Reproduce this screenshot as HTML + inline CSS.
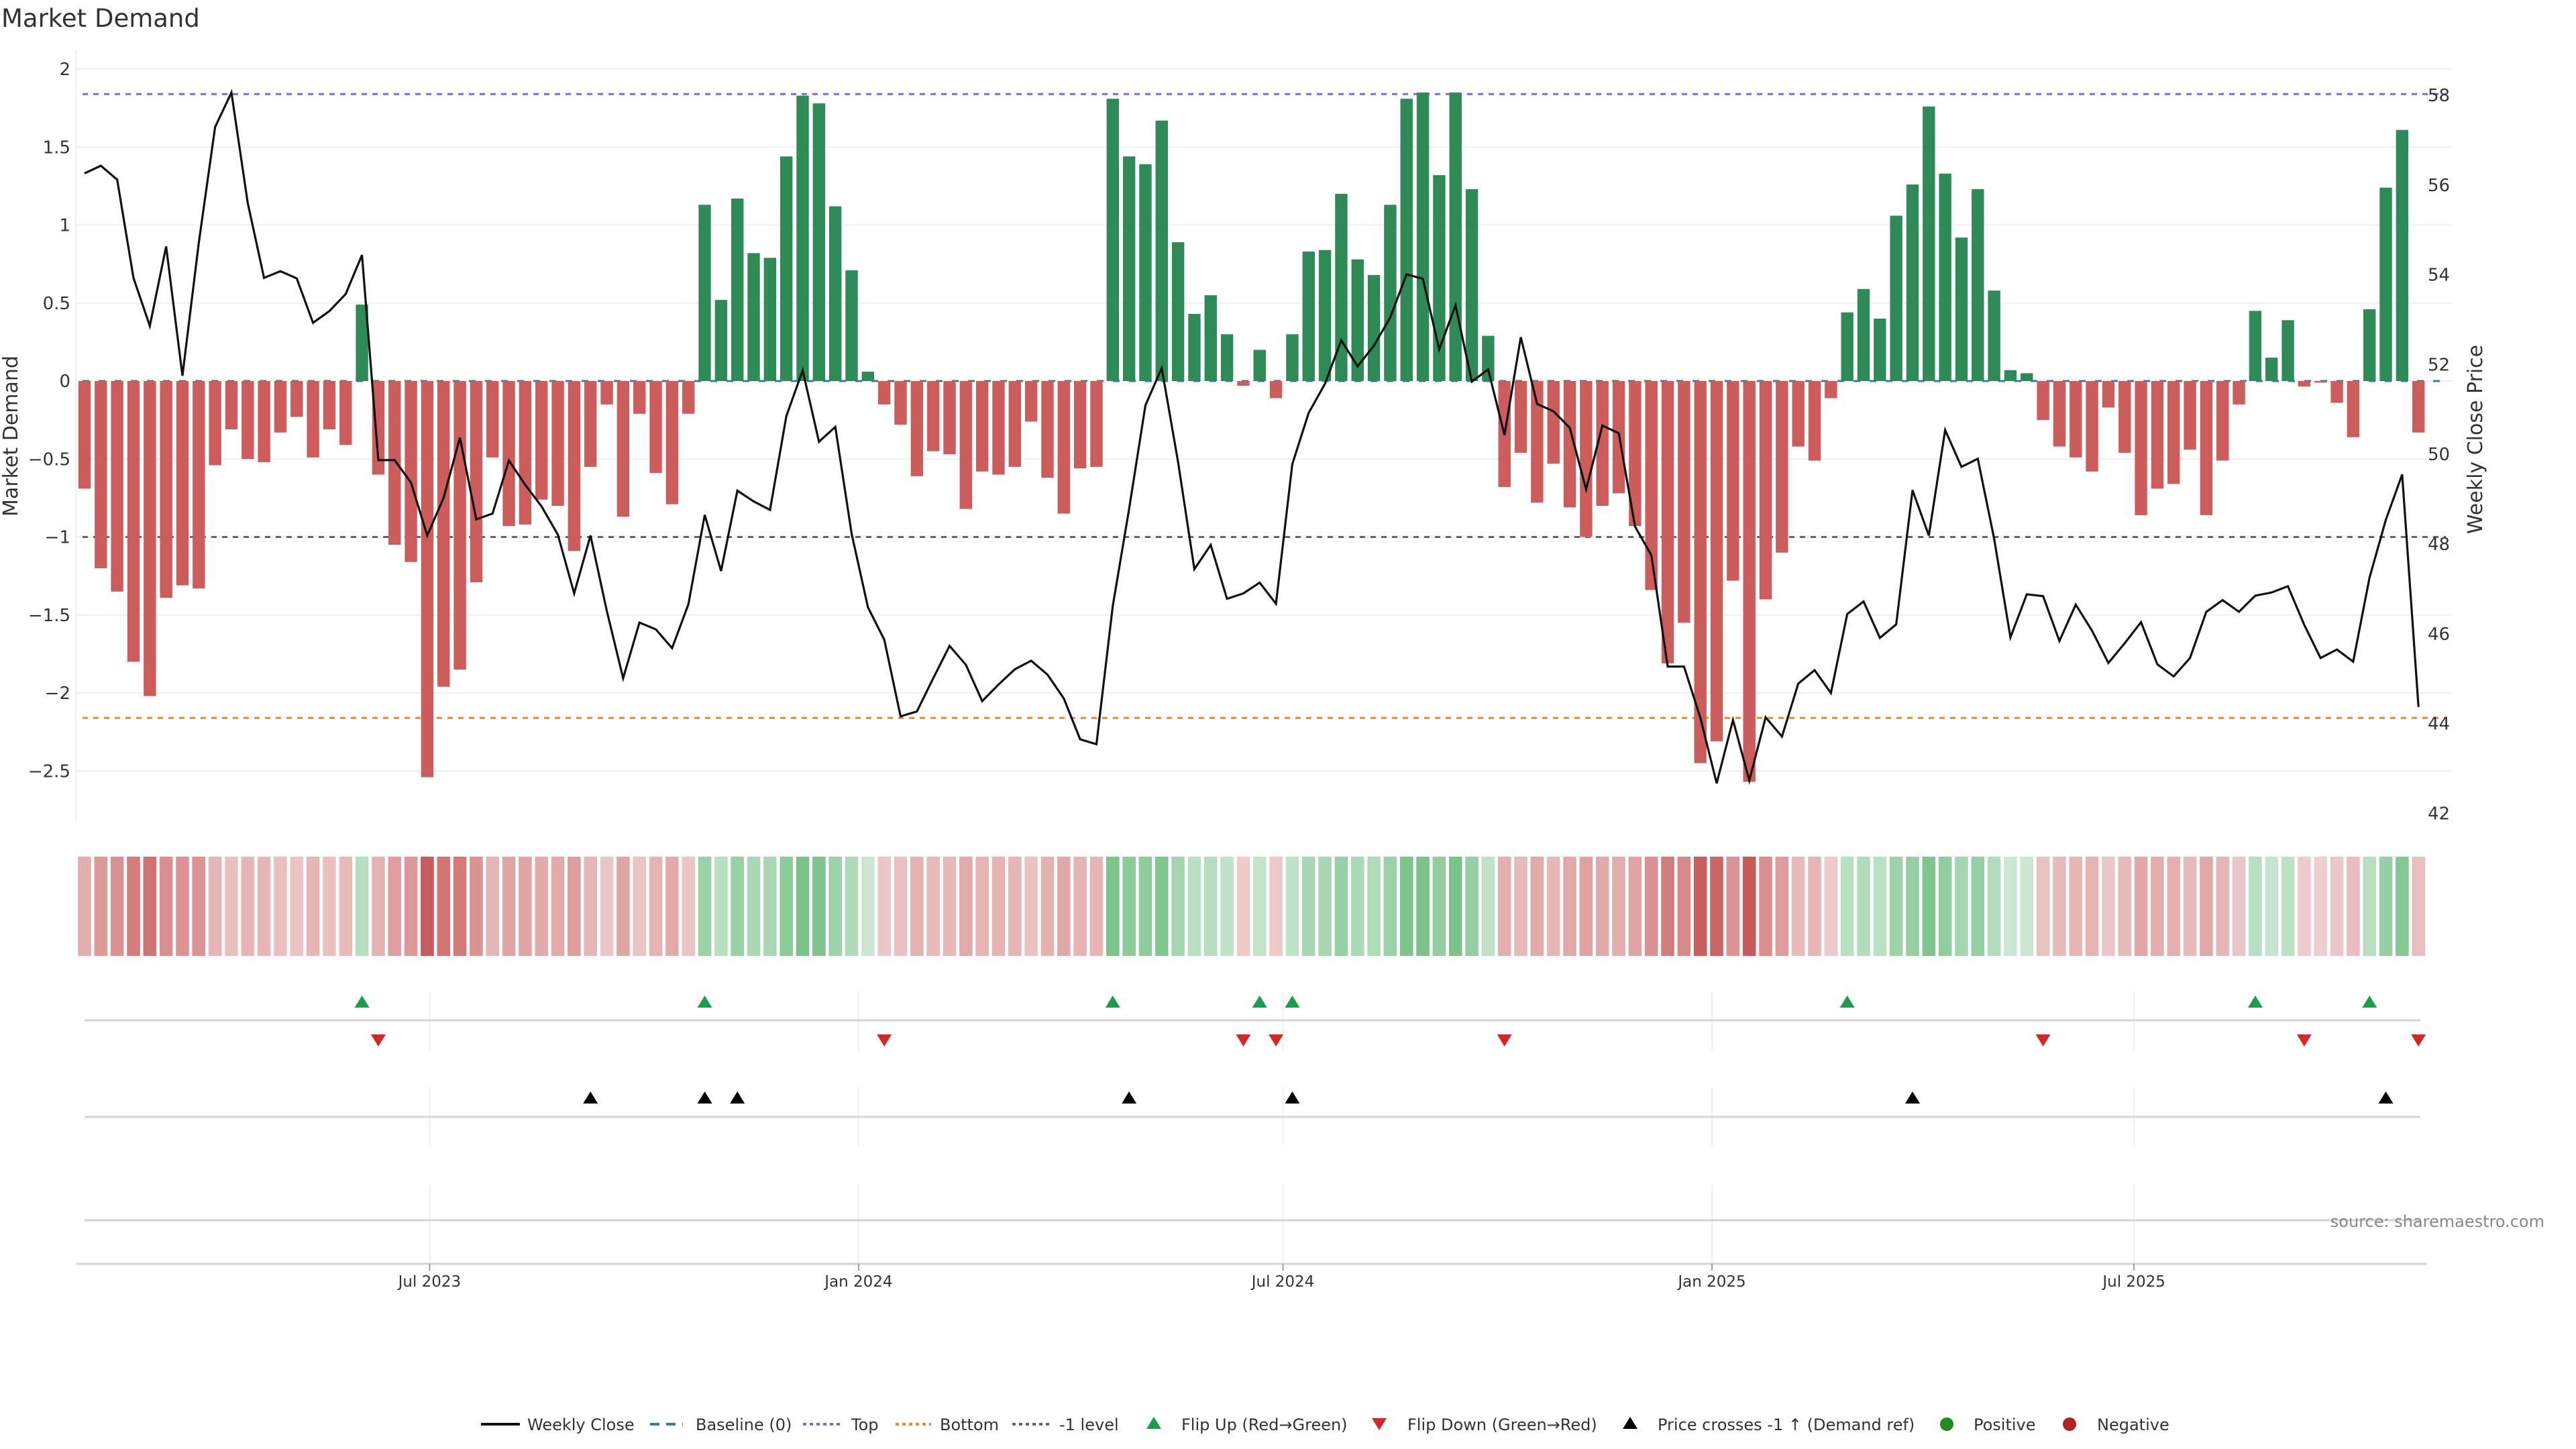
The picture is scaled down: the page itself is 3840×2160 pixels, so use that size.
<!DOCTYPE html>
<html><head><meta charset="utf-8"><style>
html,body{margin:0;padding:0;background:#fff;}
svg{display:block;}
text{font-family:"DejaVu Sans","Liberation Sans",sans-serif;}
</style></head><body>
<svg id="chart" width="3840" height="2160" viewBox="0 0 3840 2160" xmlns="http://www.w3.org/2000/svg">
<text x="2" y="40" font-size="37" fill="#333">Market Demand</text>
<g id="grid"></g><g id="refs"></g><g id="bars"></g><g id="line"></g><g id="axes"></g><g id="lower"></g><g id="legend"></g>
</svg>
<script>
const demand = [-0.69,-1.20,-1.35,-1.80,-2.02,-1.39,-1.31,-1.33,-0.54,-0.31,-0.50,-0.52,-0.33,-0.23,-0.49,-0.31,-0.41,0.49,-0.60,-1.05,
-1.16,-2.54,-1.96,-1.85,-1.29,-0.49,-0.93,-0.92,-0.76,-0.80,-1.09,-0.55,-0.15,-0.87,-0.21,-0.59,-0.79,-0.21,1.13,0.52,
1.17,0.82,0.79,1.44,1.83,1.78,1.12,0.71,0.06,-0.15,-0.28,-0.61,-0.45,-0.47,-0.82,-0.58,-0.60,-0.55,-0.26,-0.62,
-0.85,-0.56,-0.55,1.81,1.44,1.39,1.67,0.89,0.43,0.55,0.30,-0.03,0.20,-0.11,0.30,0.83,0.84,1.20,0.78,0.68,
1.13,1.81,1.85,1.32,1.85,1.23,0.29,-0.68,-0.46,-0.78,-0.53,-0.81,-1.00,-0.80,-0.72,-0.93,-1.34,-1.81,-1.55,-2.45,
-2.31,-1.28,-2.57,-1.40,-1.10,-0.42,-0.51,-0.11,0.44,0.59,0.40,1.06,1.26,1.76,1.33,0.92,1.23,0.58,0.07,0.05,
-0.25,-0.42,-0.49,-0.58,-0.17,-0.46,-0.86,-0.69,-0.66,-0.44,-0.86,-0.51,-0.15,0.45,0.15,0.39,-0.035,-0.01,-0.14,-0.36,
0.46,1.24,1.61,-0.33];
const price = [56.26,56.43,56.12,53.93,52.86,54.63,51.75,54.71,57.29,58.06,55.60,53.93,54.08,53.92,52.93,53.19,53.57,54.44,49.87,49.87,
49.37,48.19,49.03,50.37,48.55,48.68,49.86,49.32,48.84,48.21,46.90,48.19,46.51,45.01,46.25,46.10,45.68,46.66,48.65,47.40,
49.19,48.95,48.76,50.85,51.87,50.28,50.61,48.23,46.59,45.87,44.16,44.27,45.01,45.73,45.31,44.50,44.87,45.21,45.40,45.09,
44.56,43.65,43.54,46.62,48.78,51.09,51.92,49.83,47.44,47.98,46.78,46.90,47.14,46.67,49.78,50.92,51.57,52.54,51.96,52.42,
53.05,54.01,53.91,52.34,53.32,51.62,51.89,50.43,52.61,51.12,50.96,50.59,49.22,50.64,50.47,48.39,47.75,45.27,45.27,44.13,
42.67,44.08,42.73,44.14,43.71,44.89,45.19,44.68,46.44,46.72,45.91,46.21,49.20,48.19,50.54,49.72,49.90,48.12,45.92,46.88,
46.84,45.84,46.65,46.07,45.35,45.79,46.26,45.32,45.05,45.46,46.49,46.75,46.49,46.85,46.92,47.06,46.20,45.46,45.65,45.38,
47.25,48.54,49.55,44.37];
const demandTicks = [2,1.5,1,0.5,0,-0.5,-1,-1.5,-2,-2.5];
const priceTicks = [58,56,54,52,50,48,46,44,42];
const dateTicks = ["2023-07-01","2024-01-01","2024-07-01","2025-01-01","2025-07-01"];
const dateTickLabels = ["Jul 2023","Jan 2024","Jul 2024","Jan 2025","Jul 2025"];
const refTop = 1.84, refBottom = -2.16, refMinus1 = -1;
const priceRef = 48.1;
const firstWeek = "2023-02-03";

const NS="http://www.w3.org/2000/svg";
function mk(tag,attrs,parent){const e=document.createElementNS(NS,tag);for(const k in attrs)e.setAttribute(k,attrs[k]);parent.appendChild(e);return e;}
const X0=126, STEP=24.33, PL=113, PR=3656;
const xi=i=>X0+STEP*i;
const DAY=STEP/7, t0=Date.parse(firstWeek);
const xd=s=>X0+(Date.parse(s)-t0)/86400000*DAY;
const yD=v=>568-v*232.5;
const yP=p=>142+(58-p)*66.9;
const G=id=>document.getElementById(id);

demandTicks.forEach(v=>{
  const l=mk('line',{x1:PL,x2:PR,y1:yD(v),y2:yD(v),stroke:'#eceff3','stroke-width':2},G('grid'));
  
  
});
const la=mk('line',{x1:PL,x2:PL,y1:74,y2:1225,stroke:'#eef0f4','stroke-width':2},G('grid'));



[[0,'#3a78a8','10 14','baseline-zero'],[refTop,'#7b68ee','8 8','top-line'],[refBottom,'#f08a24','8 8','bottom-line'],[refMinus1,'#666','8 8','minus-one-level']].forEach(r=>{
  const l=mk('line',{x1:PL+10,x2:PR-10,y1:yD(r[0]),y2:yD(r[0]),stroke:r[1],'stroke-width':3,'stroke-dasharray':r[2]},G('refs'));
  
  
});

demand.forEach((v,i)=>{
  const y=Math.min(yD(0),yD(v)), h=Math.abs(yD(v)-yD(0));
  const b=mk('rect',{x:xi(i)-9.2,y:y,width:18.4,height:Math.max(h,1),fill:v>=0?'#2e8b57':'#cd5c5c'},G('bars'));
  
  
});

const pl=mk('polyline',{points:price.map((p,i)=>xi(i)+','+yP(p)).join(' '),fill:'none',stroke:'#111','stroke-width':3.2,'stroke-linejoin':'miter'},G('line'));



demandTicks.forEach(v=>{
  const t=mk('text',{x:105,y:yD(v)+9,'font-size':26,fill:'#333','text-anchor':'end'},G('axes'));
  t.textContent=(v<0?'\u2212':'')+Math.abs(v);
  
  
});
priceTicks.forEach(p=>{
  const t=mk('text',{x:3619,y:yP(p)+9,'font-size':26,fill:'#333'},G('axes'));
  t.textContent=p;
  
  
});
const yt=mk('text',{x:0,y:0,'font-size':30,fill:'#333','text-anchor':'middle',transform:'translate(26,650) rotate(-90)','font-family':'Liberation Sans Narrow, Liberation Sans, sans-serif'},G('axes'));
yt.textContent='Market Demand';


const yt2=mk('text',{x:0,y:0,'font-size':30,fill:'#333','text-anchor':'middle',transform:'translate(3700,655) rotate(-90)','font-family':'Liberation Sans Narrow, Liberation Sans, sans-serif'},G('axes'));
yt2.textContent='Weekly Close Price';



const maxAbs=Math.max(...demand.map(Math.abs));
demand.forEach((v,i)=>{
  const a=0.3+0.7*Math.abs(v)/maxAbs;
  const base=v>=0?[90,180,110]:[200,90,90];
  const c=base.map(ch=>Math.round(255-(255-ch)*a));
  const r=mk('rect',{x:xi(i)-9.8,y:1277,width:19.6,height:148,fill:'rgb('+c.join(',')+')'},G('lower'));
  
  
});

[[1521,1478,1567],[1665,1621,1709],[1819,1766,1883]].forEach(p=>{
  dateTicks.forEach(d=>{
    const g=mk('line',{x1:xd(d),x2:xd(d),y1:p[1],y2:p[2],stroke:'#eceff3','stroke-width':2},G('lower'));
    
    
  });
  const l=mk('line',{x1:126,x2:3608,y1:p[0],y2:p[0],stroke:'#d4d4d4','stroke-width':3},G('lower'));
  
  
});
const ax=mk('line',{x1:114,x2:3618,y1:1884,y2:1884,stroke:'#d4d4d4','stroke-width':3},G('lower'));


dateTicks.forEach((d,k)=>{
  const tk=mk('line',{x1:xd(d),x2:xd(d),y1:1884,y2:1894,stroke:'#999','stroke-width':2},G('lower'));
  
  
  const t=mk('text',{x:xd(d),y:1918,'font-size':23,fill:'#333','text-anchor':'middle'},G('lower'));
  t.textContent=dateTickLabels[k];
  
  
});

function tri(x,y,up,color,parent){
  const pts=up?[[x-11,y+9],[x+11,y+9],[x,y-9]]:[[x-11,y-9],[x+11,y-9],[x,y+9]];
  return mk('polygon',{points:pts.map(p=>p.join(',')).join(' '),fill:color},parent);
}
for(let i=1;i<demand.length;i++){
  if(demand[i-1]<0&&demand[i]>=0){
    const m=tri(xi(i),1493,true,'#1a9e4a',G('lower'));
    
    
  }
  if(demand[i-1]>=0&&demand[i]<0){
    const m=tri(xi(i),1551,false,'#d62728',G('lower'));
    
    
  }
  if(price[i-1]<priceRef&&price[i]>=priceRef){
    const m=tri(xi(i),1636,true,'#000',G('lower'));
    
    
  }
}
const src=mk('text',{x:3793,y:1829,'font-size':24,fill:'#888','text-anchor':'end'},G('lower'));
src.textContent='source: sharemaestro.com';



const LY=2123, L=G('legend');
function lt(x,s,name){const t=mk('text',{x:x,y:LY+9,'font-size':24,fill:'#333'},L);t.textContent=s;}
let e;
e=mk('line',{x1:717,x2:775,y1:LY,y2:LY,stroke:'#111','stroke-width':4},L);
lt(786,'Weekly Close','legend-weekly-close');
e=mk('line',{x1:969,x2:1018,y1:LY,y2:LY,stroke:'#3a78a8','stroke-width':4,'stroke-dasharray':'14 10'},L);
lt(1037,'Baseline (0)','legend-baseline');
e=mk('line',{x1:1197,x2:1255,y1:LY,y2:LY,stroke:'#7b68ee','stroke-width':4,'stroke-dasharray':'5 5'},L);
lt(1269,'Top','legend-top');
e=mk('line',{x1:1335,x2:1388,y1:LY,y2:LY,stroke:'#f08a24','stroke-width':4,'stroke-dasharray':'5 5'},L);
lt(1401,'Bottom','legend-bottom');
e=mk('line',{x1:1509,x2:1566,y1:LY,y2:LY,stroke:'#666','stroke-width':4,'stroke-dasharray':'5 5'},L);
lt(1579,'-1 level','legend-minus-one');
e=tri(1720,LY-2,true,'#1a9e4a',L);
lt(1761,'Flip Up (Red\u2192Green)','legend-flip-up');
e=tri(2056,LY,false,'#d62728',L);
lt(2098,'Flip Down (Green\u2192Red)','legend-flip-down');
e=tri(2430,LY-2,true,'#000',L);
lt(2471,'Price crosses -1 \u2191 (Demand ref)','legend-price-cross');
e=mk('circle',{cx:2902,cy:LY,r:10,fill:'#228b22'},L);
lt(2942,'Positive','legend-positive');
e=mk('circle',{cx:3085,cy:LY,r:10,fill:'#b22222'},L);
lt(3126,'Negative','legend-negative');
</script>
</body></html>
